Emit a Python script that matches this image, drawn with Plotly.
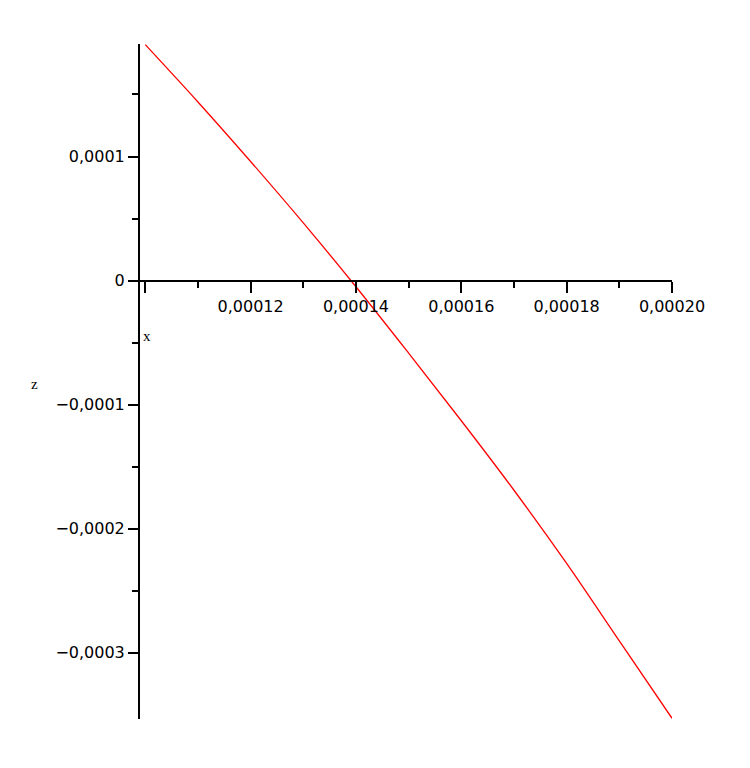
import plotly.graph_objects as go

# curve (x and z in plain units)
X = [0.00010, 0.00011, 0.00012, 0.00013, 0.00014, 0.00015,
     0.00016, 0.00017, 0.00018, 0.00019, 0.00020]
Z = [1.902e-4, 1.440e-4, 0.960e-4, 0.465e-4, -0.050e-4, -0.585e-4,
     -1.130e-4, -1.690e-4, -2.280e-4, -2.905e-4, -3.528e-4]

X_TICKS = [0.0001, 0.00012, 0.00014, 0.00016, 0.00018, 0.0002]
X_LABELS = ['', '0,00012', '0,00014', '0,00016', '0,00018', '0,00020']
X_MINOR = [0.00011, 0.00013, 0.00015, 0.00017, 0.00019]
Y_TICKS = [0.0001, 0, -0.0001, -0.0002, -0.0003]
Y_LABELS = ['0,0001', '0', '\u22120,0001', '\u22120,0002', '\u22120,0003']
Y_MINOR = [0.00015, 0.00005, -0.00005, -0.00015, -0.00025]

ymin, ymax = min(Z) - 0.006e-4, max(Z) + 0.005e-4
xmin, xmax = 0.0000990, 0.0002

fig = go.Figure()
fig.add_scatter(x=X, y=Z, mode='lines', line=dict(color='red', width=1.3, shape='spline'),
                showlegend=False, hoverinfo='skip')

TICKFONT = dict(family='DejaVu Sans', size=16, color='black')
fig.update_xaxes(range=[xmin, xmax], anchor='free', position=(0 - ymin) / (ymax - ymin),
                 showline=True, linecolor='black', linewidth=2, showgrid=False, zeroline=False,
                 tickmode='array', tickvals=X_TICKS, ticktext=X_LABELS,
                 ticks='outside', ticklen=11, tickwidth=2, tickcolor='black', tickfont=TICKFONT,
                 minor=dict(tickmode='array', tickvals=X_MINOR, ticks='outside', ticklen=6,
                            tickwidth=2, tickcolor='black', showgrid=False))
fig.update_yaxes(range=[ymin, ymax], showline=True, linecolor='black', linewidth=2,
                 showgrid=False, zeroline=False,
                 tickmode='array', tickvals=Y_TICKS, ticktext=Y_LABELS,
                 ticks='outside', ticklen=10, tickwidth=2, tickcolor='black', tickfont=TICKFONT,
                 minor=dict(tickmode='array', tickvals=Y_MINOR, ticks='outside', ticklen=6,
                            tickwidth=2, tickcolor='black', showgrid=False))

AXFONT = dict(family='Liberation Serif, Times New Roman', size=15, color='black')
fig.add_annotation(text='x', xref='paper', x=0, xanchor='left', xshift=1,
                   yref='y', y=-0.000045, showarrow=False, font=AXFONT)
fig.add_annotation(text='z', xref='paper', x=0, xanchor='center', xshift=-106,
                   yref='y', y=-0.0000835, showarrow=False, font=AXFONT)

fig.update_layout(width=750, height=768, paper_bgcolor='white', plot_bgcolor='white',
                  margin=dict(l=132, r=86, t=36, b=57), showlegend=False)
fig.write_html("out.html")
